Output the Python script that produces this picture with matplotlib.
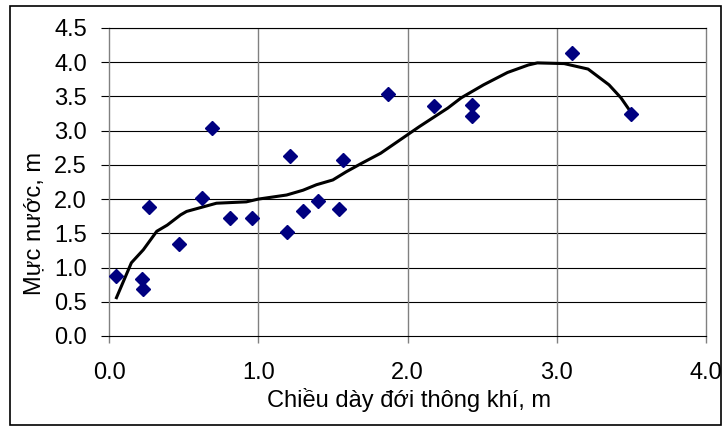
import matplotlib
matplotlib.use("Agg")
import matplotlib.pyplot as plt
from matplotlib.patches import Rectangle

plt.rcParams['font.family'] = ['Liberation Sans', 'DejaVu Sans']

# diem do (scatter)
x_pts = [0.05, 0.22, 0.23, 0.27, 0.47, 0.62, 0.69, 0.81, 0.96, 1.19, 1.21,
         1.30, 1.40, 1.54, 1.57, 1.87, 2.18, 2.43, 2.43, 3.10, 3.50]
y_pts = [0.88, 0.83, 0.69, 1.88, 1.35, 2.02, 3.04, 1.72, 1.72, 1.52, 2.63,
         1.82, 1.97, 1.85, 2.57, 3.54, 3.36, 3.37, 3.21, 4.13, 3.25]

# duong xu huong (doc tu hinh)
x_trend = [0.05, 0.15, 0.23, 0.32, 0.39, 0.48, 0.52, 0.72, 0.92, 1.00, 1.19,
           1.30, 1.39, 1.50, 1.59, 1.69, 1.82, 2.00, 2.08, 2.27, 2.36, 2.51,
           2.67, 2.81, 2.87, 3.05, 3.21, 3.35, 3.43, 3.50]
y_trend = [0.56, 1.07, 1.26, 1.53, 1.62, 1.77, 1.82, 1.94, 1.96, 2.00, 2.06,
           2.13, 2.21, 2.28, 2.40, 2.52, 2.67, 2.94, 3.06, 3.33, 3.48, 3.67,
           3.85, 3.96, 3.99, 3.98, 3.90, 3.67, 3.48, 3.26]

x_ticks = [0.0, 1.0, 2.0, 3.0, 4.0]
y_ticks = [0.0, 0.5, 1.0, 1.5, 2.0, 2.5, 3.0, 3.5, 4.0, 4.5]

fig = plt.figure(figsize=(7.22, 4.26), dpi=100)
ax = fig.add_axes([109/722, 1-336/426, 597/722, 308/426])

ax.plot(x_trend, y_trend, color='black', lw=2.2, zorder=3)
ax.plot(x_pts, y_pts, 'D', color='#000080', markersize=7, mec='#000080', zorder=4)

ax.set_xlim(0, 4)
ax.set_ylim(0, 4.5)
ax.set_xticks(x_ticks)
ax.set_yticks(y_ticks)
ax.set_xticklabels([f'{v:.1f}' for v in x_ticks])
ax.set_yticklabels([f'{v:.1f}' for v in y_ticks])

# luoi
for v in y_ticks[1:]:
    ax.axhline(v, color='black', lw=0.8, zorder=1)
for v in x_ticks[1:-1]:
    ax.axvline(v, color='#808080', lw=1.0, zorder=1)

ax.spines['left'].set_color('#808080')
ax.spines['right'].set_color('#808080')
ax.spines['bottom'].set_color('black')
ax.spines['top'].set_color('black')
for s in ax.spines.values():
    s.set_linewidth(0.8)
ax.spines['left'].set_linewidth(1.0)
ax.spines['right'].set_linewidth(1.0)

ax.tick_params(axis='x', direction='out', length=5, width=1.0, color='#808080',
               pad=14, labelsize=17)
ax.tick_params(axis='y', direction='out', length=5.8, width=0.8, color='black',
               pad=10, labelsize=17)

ax.set_xlabel('Chiều dày đới thông khí, m', fontsize=17)
ax.set_ylabel('Mực nước, m', fontsize=17)
ax.xaxis.set_label_coords(0.503, -0.17)
ax.yaxis.set_label_coords(-0.106, 0.364)

# khung ngoai
fig.patches.append(Rectangle((9.5/722, 1.5/426), (721-9.5)/722, (420-1.5)/426,
                             transform=fig.transFigure, fill=False,
                             edgecolor='black', lw=1.2))

plt.savefig('out.png', dpi=100)
